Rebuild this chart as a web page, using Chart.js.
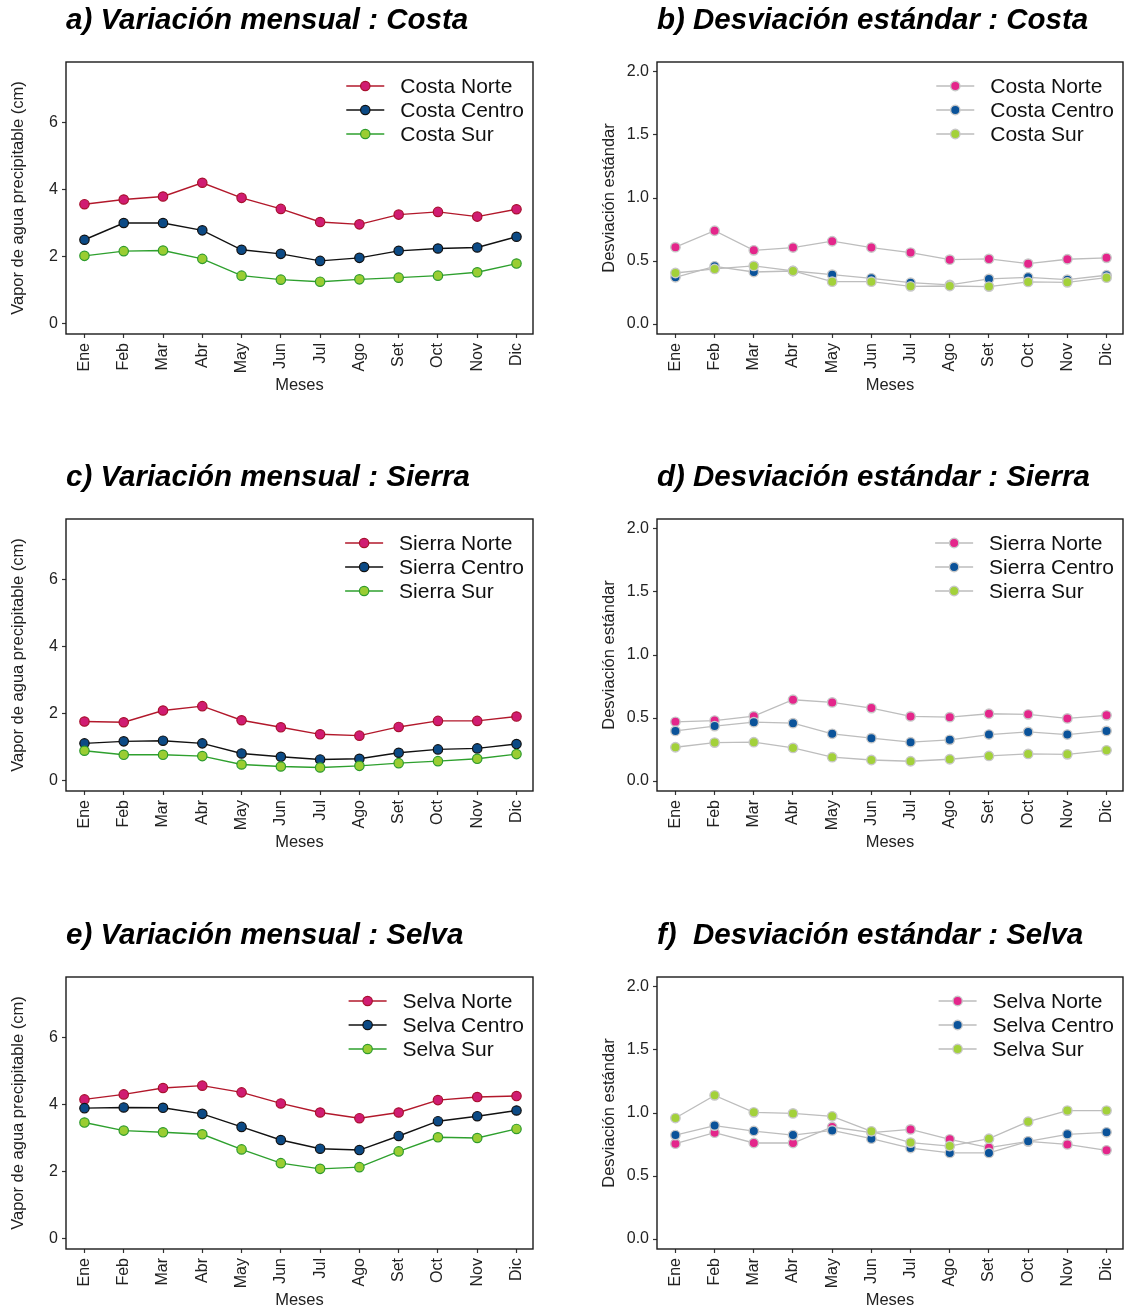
<!DOCTYPE html>
<html>
<head>
<meta charset="utf-8">
<script src="https://cdn.jsdelivr.net/npm/chart.js@4.4.1/dist/chart.umd.min.js"></script>
<style>
  html, body { margin: 0; padding: 0; background: #fff; overflow: hidden; }
  #page { position: relative; width: 1126px; height: 1307px; overflow: hidden; }
  canvas { position: absolute; }
</style>
</head>
<body>
<div id="page">
  <canvas id="cA" width="563" height="400" style="left:0;top:0"></canvas>
  <canvas id="cB" width="567" height="400" style="left:563px;top:0"></canvas>
  <canvas id="cC" width="563" height="400" style="left:0;top:457px"></canvas>
  <canvas id="cD" width="567" height="400" style="left:563px;top:457px"></canvas>
  <canvas id="cE" width="563" height="400" style="left:0;top:915px"></canvas>
  <canvas id="cF" width="567" height="400" style="left:563px;top:915px"></canvas>
</div>
<script>
const meses = ['Ene', 'Feb', 'Mar', 'Abr', 'May', 'Jun', 'Jul', 'Ago', 'Set', 'Oct', 'Nov', 'Dic'];

// monthly mean precipitable water (cm)
const costaNorte  = [3.56, 3.70, 3.79, 4.20, 3.75, 3.42, 3.03, 2.96, 3.25, 3.33, 3.19, 3.41];
const costaCentro = [2.50, 3.00, 3.00, 2.78, 2.20, 2.08, 1.87, 1.96, 2.17, 2.24, 2.27, 2.59];
const costaSur    = [2.02, 2.16, 2.18, 1.93, 1.43, 1.31, 1.25, 1.32, 1.37, 1.43, 1.53, 1.79];

const sierraNorte  = [1.76, 1.74, 2.09, 2.22, 1.80, 1.59, 1.38, 1.34, 1.60, 1.78, 1.78, 1.91];
const sierraCentro = [1.11, 1.17, 1.19, 1.11, 0.81, 0.71, 0.63, 0.65, 0.83, 0.93, 0.96, 1.09];
const sierraSur    = [0.89, 0.77, 0.77, 0.73, 0.48, 0.42, 0.39, 0.44, 0.52, 0.58, 0.65, 0.79];

const selvaNorte  = [4.15, 4.30, 4.49, 4.56, 4.36, 4.03, 3.76, 3.59, 3.76, 4.13, 4.22, 4.25];
const selvaCentro = [3.89, 3.91, 3.90, 3.72, 3.33, 2.94, 2.68, 2.64, 3.06, 3.50, 3.65, 3.82];
const selvaSur    = [3.46, 3.22, 3.17, 3.11, 2.66, 2.25, 2.08, 2.13, 2.60, 3.02, 3.00, 3.27];

// standard deviation
const sdCostaNorte  = [0.61, 0.74, 0.585, 0.607, 0.657, 0.607, 0.567, 0.511, 0.517, 0.479, 0.514, 0.525];
const sdCostaCentro = [0.371, 0.458, 0.413, 0.421, 0.392, 0.363, 0.328, 0.310, 0.358, 0.371, 0.352, 0.387];
const sdCostaSur    = [0.405, 0.437, 0.461, 0.421, 0.336, 0.336, 0.299, 0.302, 0.297, 0.334, 0.331, 0.368];

const sdSierraNorte  = [0.47, 0.48, 0.515, 0.645, 0.624, 0.579, 0.513, 0.507, 0.534, 0.529, 0.497, 0.521];
const sdSierraCentro = [0.398, 0.436, 0.467, 0.459, 0.375, 0.340, 0.308, 0.327, 0.369, 0.390, 0.369, 0.398];
const sdSierraSur    = [0.268, 0.305, 0.308, 0.263, 0.189, 0.167, 0.157, 0.173, 0.199, 0.215, 0.212, 0.244];

const sdSelvaNorte  = [0.757, 0.844, 0.762, 0.762, 0.889, 0.845, 0.870, 0.791, 0.725, 0.775, 0.751, 0.704];
const sdSelvaCentro = [0.825, 0.900, 0.857, 0.825, 0.862, 0.796, 0.722, 0.683, 0.683, 0.775, 0.831, 0.847];
const sdSelvaSur    = [0.960, 1.140, 1.005, 0.997, 0.974, 0.855, 0.765, 0.738, 0.796, 0.931, 1.019, 1.019];

const meanTicks = [0, 2, 4, 6];
const sdTicks = [0, 0.5, 1.0, 1.5, 2.0];

const FONT = '"Liberation Sans", Arial, Helvetica, sans-serif';
Chart.defaults.font.family = FONT;
Chart.defaults.color = '#222';

// ggplot-ish colours
const meanStyle = [
    { line: '#b2182b', fill: '#d01c72', border: '#a8102e' },
    { line: '#111111', fill: '#0c4a85', border: '#111111' },
    { line: '#2ea02e', fill: '#9acd32', border: '#2e9b2e' }
];
const sdStyle = [
    { line: '#bdbdbd', fill: '#e4268b', border: '#c8c8c8' },
    { line: '#bdbdbd', fill: '#0b539a', border: '#c8c8c8' },
    { line: '#bdbdbd', fill: '#a3d13a', border: '#c8c8c8' }
];

// box around the plot area
const boxPlugin = {
    id: 'box',
    afterDatasetsDraw(chart) {
        const a = chart.chartArea;
        const ctx = chart.ctx;
        ctx.save();
        ctx.strokeStyle = '#1a1a1a';
        ctx.lineWidth = 1.4;
        ctx.strokeRect(a.left, a.top, a.right - a.left, a.bottom - a.top);
        ctx.restore();
    }
};

// legend drawn inside the plot, right aligned like the original
const innerLegend = {
    id: 'innerLegend',
    afterDraw(chart) {
        const ctx = chart.ctx;
        const a = chart.chartArea;
        ctx.save();
        ctx.font = '21px ' + FONT;
        const sets = chart.data.datasets;
        const maxW = Math.max(...sets.map(d => ctx.measureText(d.label).width));
        const textX = a.right - 9 - maxW;
        const mx = textX - 35;
        sets.forEach((d, i) => {
            const y = a.top + 24 + i * 24;
            ctx.strokeStyle = d.borderColor;
            ctx.lineWidth = d.borderWidth;
            ctx.beginPath();
            ctx.moveTo(mx - 19, y);
            ctx.lineTo(mx + 19, y);
            ctx.stroke();
            ctx.beginPath();
            ctx.arc(mx, y, d.pointRadius, 0, Math.PI * 2);
            ctx.fillStyle = d.pointBackgroundColor;
            ctx.fill();
            ctx.lineWidth = d.pointBorderWidth;
            ctx.strokeStyle = d.pointBorderColor;
            ctx.stroke();
            ctx.fillStyle = '#111';
            ctx.textBaseline = 'middle';
            ctx.textAlign = 'left';
            ctx.fillText(d.label, textX, y + 1);
        });
        ctx.restore();
    }
};

function makePanel(id, title, names, series, isSd) {
    const styles = isSd ? sdStyle : meanStyle;
    const datasets = series.map((vals, i) => ({
        label: names[i],
        data: vals.map((v, k) => ({ x: k, y: v })),
        borderColor: styles[i].line,
        borderWidth: isSd ? 1.3 : 1.4,
        pointBackgroundColor: styles[i].fill,
        pointBorderColor: styles[i].border,
        pointBorderWidth: isSd ? 1.4 : 1.2,
        pointRadius: 4.7,
        tension: 0,
        order: 2 - i
    }));

    const yTicks = isSd ? sdTicks : meanTicks;
    new Chart(document.getElementById(id), {
        type: 'line',
        data: { datasets: datasets },
        options: {
            responsive: false,
            animation: false,
            devicePixelRatio: 1,
            layout: { padding: { left: 0, right: isSd ? 7 : 30, top: 0, bottom: 0 } },
            plugins: {
                legend: { display: false },
                tooltip: { enabled: false },
                title: {
                    display: true,
                    text: title,
                    align: 'start',
                    fullSize: false,
                    color: '#000',
                    font: { size: 29.5, weight: 'bold', style: 'italic', family: FONT },
                    padding: { top: 3, bottom: 23.6 }
                }
            },
            scales: {
                x: {
                    type: 'linear',
                    min: -0.47,
                    max: 11.42,
                    afterBuildTicks: s => { s.ticks = meses.map((_, i) => ({ value: i })); },
                    afterFit: s => { s.height = 66; s.paddingLeft = 0; s.paddingRight = 0; },
                    grid: { drawOnChartArea: false, drawTicks: true, tickLength: 4, color: '#333', tickWidth: 1.2 },
                    border: { display: false },
                    ticks: {
                        autoSkip: false,
                        maxRotation: 90,
                        minRotation: 90,
                        padding: 5,
                        color: '#222',
                        font: { size: 16 },
                        callback: v => meses[v]
                    },
                    title: {
                        display: true,
                        text: 'Meses',
                        color: '#222',
                        font: { size: 16.5 },
                        padding: { top: 0, bottom: 5 }
                    }
                },
                y: {
                    min: isSd ? -0.079 : -0.31,
                    max: isSd ? 2.079 : 7.8,
                    afterBuildTicks: s => { s.ticks = yTicks.map(v => ({ value: v })); },
                    afterFit: s => { s.width = isSd ? 94 : 66; s.paddingTop = 0; s.paddingBottom = 0; },
                    grid: { drawOnChartArea: false, drawTicks: true, tickLength: 4, color: '#333', tickWidth: 1.2 },
                    border: { display: false },
                    ticks: {
                        padding: 4,
                        color: '#222',
                        font: { size: 16 },
                        callback: v => isSd ? v.toFixed(1) : String(v)
                    },
                    title: {
                        display: true,
                        text: isSd ? 'Desviación estándar' : 'Vapor de agua precipitable (cm)',
                        color: '#222',
                        font: { size: 16.5 },
                        padding: { top: isSd ? 37 : 9, bottom: 0 }
                    }
                }
            }
        },
        plugins: [boxPlugin, innerLegend]
    });
}

makePanel('cA', 'a) Variación mensual : Costa', ['Costa Norte', 'Costa Centro', 'Costa Sur'],
    [costaNorte, costaCentro, costaSur], false);
makePanel('cB', 'b) Desviación estándar : Costa', ['Costa Norte', 'Costa Centro', 'Costa Sur'],
    [sdCostaNorte, sdCostaCentro, sdCostaSur], true);
makePanel('cC', 'c) Variación mensual : Sierra', ['Sierra Norte', 'Sierra Centro', 'Sierra Sur'],
    [sierraNorte, sierraCentro, sierraSur], false);
makePanel('cD', 'd) Desviación estándar : Sierra', ['Sierra Norte', 'Sierra Centro', 'Sierra Sur'],
    [sdSierraNorte, sdSierraCentro, sdSierraSur], true);
makePanel('cE', 'e) Variación mensual : Selva', ['Selva Norte', 'Selva Centro', 'Selva Sur'],
    [selvaNorte, selvaCentro, selvaSur], false);
makePanel('cF', 'f)  Desviación estándar : Selva', ['Selva Norte', 'Selva Centro', 'Selva Sur'],
    [sdSelvaNorte, sdSelvaCentro, sdSelvaSur], true);
</script>
</body>
</html>
